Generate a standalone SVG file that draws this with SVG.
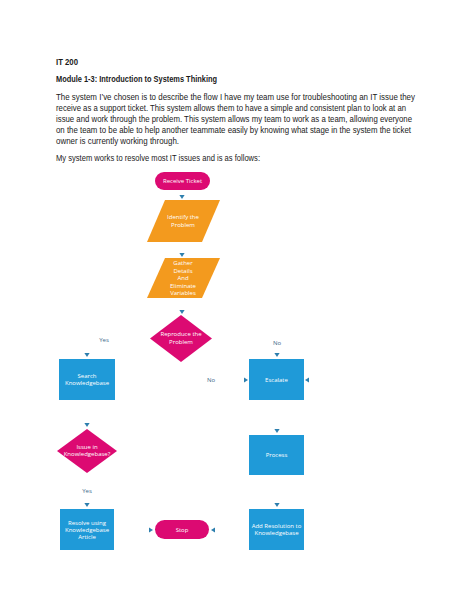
<svg xmlns="http://www.w3.org/2000/svg" xmlns:xlink="http://www.w3.org/1999/xlink" width="474" height="613" viewBox="0 0 474 613">
<style>
.doc{font-family:"Liberation Sans",Arial,sans-serif;font-size:8.2px;fill:#1a1a1a}
.b{font-weight:bold}
.nt{font-family:"Open Sans","Liberation Sans",sans-serif;font-size:6px;fill:#ffffff;text-anchor:middle}
.lbl{font-family:"Open Sans","Liberation Sans",sans-serif;font-size:6px;fill:#3d6a8a;text-anchor:middle}
.pink{fill:#dc0a72}
.orange{fill:#f39a1e}
.blue{fill:#1f9ad8}
.ah{fill:#2d7fae}
</style>
<defs>
<path id="down" d="M-2.6,-2 L2.6,-2 L0,2 Z"/>
<path id="right" d="M-2,-2.6 L-2,2.6 L2,0 Z"/>
<path id="left" d="M2,-2.6 L2,2.6 L-2,0 Z"/>
</defs>
<rect width="474" height="613" fill="#ffffff"/>
<g id="header">
<text class="doc b" x="56" y="65" textLength="22" lengthAdjust="spacingAndGlyphs">IT 200</text>
<text class="doc b" x="56" y="82" textLength="161" lengthAdjust="spacingAndGlyphs">Module 1-3: Introduction to Systems Thinking</text>
<text class="doc" x="56" y="100" textLength="359" lengthAdjust="spacingAndGlyphs">The system I’ve chosen is to describe the flow I have my team use for troubleshooting an IT issue they</text>
<text class="doc" x="56" y="111" textLength="350" lengthAdjust="spacingAndGlyphs">receive as a support ticket. This system allows them to have a simple and consistent plan to look at an</text>
<text class="doc" x="56" y="122" textLength="356" lengthAdjust="spacingAndGlyphs">issue and work through the problem. This system allows my team to work as a team, allowing everyone</text>
<text class="doc" x="56" y="133" textLength="355" lengthAdjust="spacingAndGlyphs">on the team to be able to help another teammate easily by knowing what stage in the system the ticket</text>
<text class="doc" x="56" y="144" textLength="123" lengthAdjust="spacingAndGlyphs">owner is currently working through.</text>
<text class="doc" x="56" y="161" textLength="204" lengthAdjust="spacingAndGlyphs">My system works to resolve most IT issues and is as follows:</text>
</g>
<g id="connectors">
<use xlink:href="#down" class="ah" x="182" y="197"/>
<use xlink:href="#down" class="ah" x="182" y="255"/>
<use xlink:href="#down" class="ah" x="182" y="312"/>
<use xlink:href="#down" class="ah" x="87" y="355"/>
<use xlink:href="#down" class="ah" x="277" y="355"/>
<use xlink:href="#right" class="ah" x="246" y="380"/>
<use xlink:href="#left" class="ah" x="307" y="380"/>
<use xlink:href="#down" class="ah" x="87" y="425"/>
<use xlink:href="#down" class="ah" x="277" y="431"/>
<use xlink:href="#down" class="ah" x="87" y="505"/>
<use xlink:href="#down" class="ah" x="277" y="505"/>
<use xlink:href="#right" class="ah" x="151" y="530"/>
<use xlink:href="#left" class="ah" x="213" y="530"/>
<text class="lbl" x="104" y="342">Yes</text>
<text class="lbl" x="277" y="345">No</text>
<text class="lbl" x="211" y="382">No</text>
<text class="lbl" x="87" y="493">Yes</text>
</g>
<g id="receive-ticket">
<rect class="pink" x="155" y="172" width="55" height="18" rx="9"/>
<text class="nt" x="182.5" y="183">Receive Ticket</text>
</g>
<g id="identify-problem">
<polygon class="orange" points="165,200 220,200 202,242 147,242"/>
<text class="nt" x="183" y="219">Identify the</text>
<text class="nt" x="183" y="227">Problem</text>
</g>
<g id="gather-details">
<polygon class="orange" points="165,258 220,258 202,298 147,298"/>
<text class="nt" x="183" y="265">Gather</text>
<text class="nt" x="183" y="272.5">Details</text>
<text class="nt" x="183" y="280">And</text>
<text class="nt" x="183" y="287.5">Eliminate</text>
<text class="nt" x="183" y="295">Variables</text>
</g>
<g id="reproduce-problem">
<polygon class="pink" points="181,315 212,338.5 181,362 150,338.5"/>
<text class="nt" x="181" y="336">Reproduce the</text>
<text class="nt" x="181" y="344">Problem</text>
</g>
<g id="search-kb">
<rect class="blue" x="59" y="359" width="56" height="41"/>
<text class="nt" x="87" y="378">Search</text>
<text class="nt" x="87" y="385">Knowledgebase</text>
</g>
<g id="escalate">
<rect class="blue" x="249" y="359" width="55" height="41"/>
<text class="nt" x="276.5" y="382">Escalate</text>
</g>
<g id="issue-in-kb">
<polygon class="pink" points="87,429 117,451 87,473 57,451"/>
<text class="nt" x="87" y="449">Issue in</text>
<text class="nt" x="87" y="456">Knowledgebase?</text>
</g>
<g id="process">
<rect class="blue" x="249" y="435" width="55" height="40"/>
<text class="nt" x="276.5" y="457">Process</text>
</g>
<g id="resolve-kb-article">
<rect class="blue" x="60" y="509" width="54" height="41"/>
<text class="nt" x="87" y="525">Resolve using</text>
<text class="nt" x="87" y="532">Knowledgebase</text>
<text class="nt" x="87" y="539">Article</text>
</g>
<g id="stop">
<rect class="pink" x="155" y="520" width="54" height="19" rx="9.5"/>
<text class="nt" x="182" y="532">Stop</text>
</g>
<g id="add-resolution">
<rect class="blue" x="249" y="509" width="55" height="41"/>
<text class="nt" x="276.5" y="528">Add Resolution to</text>
<text class="nt" x="276.5" y="535">Knowledgebase</text>
</g>
</svg>
